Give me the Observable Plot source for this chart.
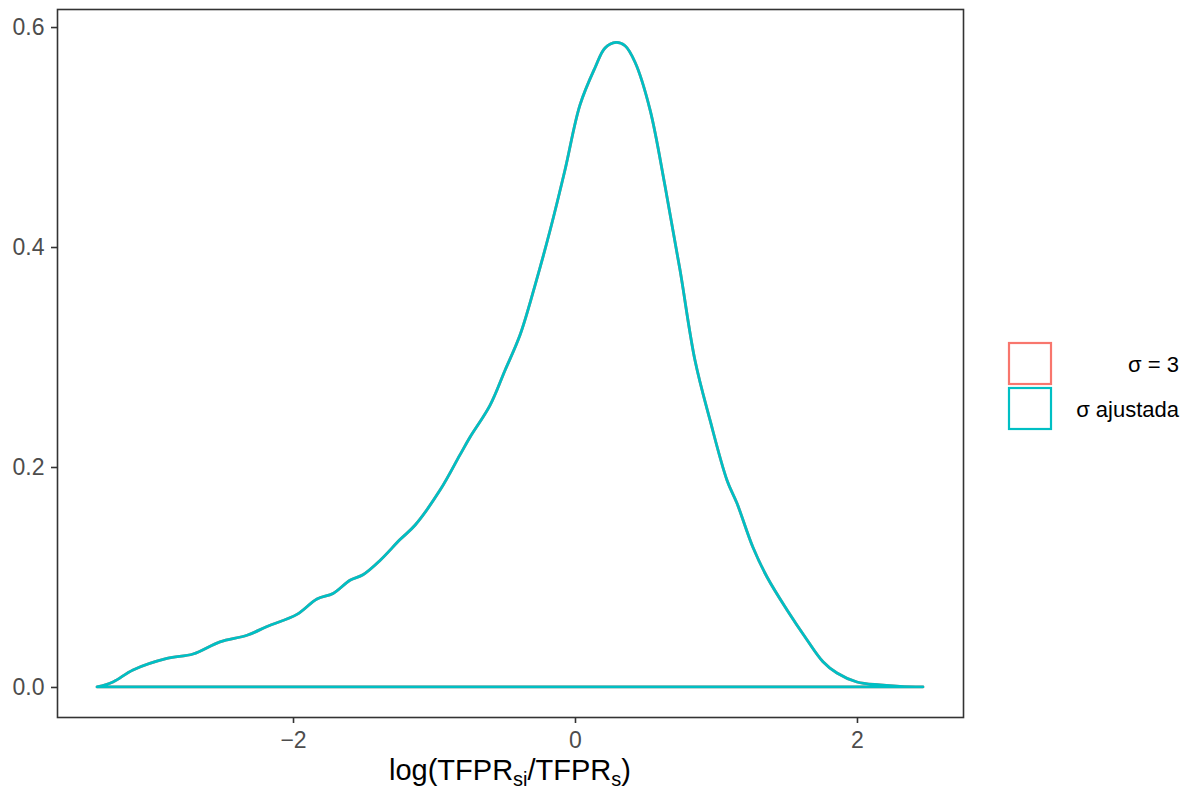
<!DOCTYPE html>
<html>
<head>
<meta charset="utf-8">
<script src="https://cdn.jsdelivr.net/npm/d3@7"></script>
<script src="https://cdn.jsdelivr.net/npm/@observablehq/plot@0.6"></script>
<style>
  html, body { margin: 0; padding: 0; background: #fff; }
  #chart { position: relative; width: 1187px; height: 791px; }
  svg { font-family: "Liberation Sans", Arial, Helvetica, sans-serif; }
</style>
</head>
<body>
<div id="chart"></div>
<script>
// ---- data ----
const seriesNames = ["σ = 3", "σ ajustada"];
const seriesColors = ["#F8766D", "#00BFC4"];
const xTicks = [-2, 0, 2];
const yTicks = [0, 0.2, 0.4, 0.6];
const densityX = [-3.390, -3.277, -3.135, -2.894, -2.709, -2.518, -2.326, -2.184, -1.972, -1.830,
  -1.716, -1.596, -1.504, -1.383, -1.241, -1.135, -0.957, -0.816, -0.745, -0.603,
  -0.496, -0.390, -0.284, -0.177, -0.071, 0.035, 0.142, 0.213, 0.291, 0.355,
  0.426, 0.532, 0.638, 0.745, 0.851, 0.957, 1.078, 1.149, 1.262, 1.362,
  1.504, 1.645, 1.759, 1.858, 2.000, 2.163, 2.305, 2.468];
const densityY = [0.000, 0.0045, 0.0155, 0.026, 0.030, 0.041, 0.047, 0.055, 0.066, 0.080,
  0.085, 0.097, 0.102, 0.115, 0.134, 0.147, 0.179, 0.211, 0.227, 0.256,
  0.288, 0.320, 0.365, 0.415, 0.470, 0.529, 0.563, 0.581, 0.586, 0.583,
  0.568, 0.525, 0.456, 0.379, 0.297, 0.243, 0.188, 0.167, 0.127, 0.100,
  0.070, 0.043, 0.023, 0.0127, 0.0045, 0.0018, 0.0005, 0.000];

// both series share the same estimated density (σ = 3 is hidden underneath)
const rows = [];
for (const s of seriesNames) {
  densityX.forEach((x, i) => rows.push({series: s, x, y: densityY[i]}));
}

const minus = d => (d < 0 ? "\u2212" + Math.abs(d) : String(d));

const plot = Plot.plot({
  width: 1187,
  height: 791,
  marginLeft: 57,
  marginRight: 224,
  marginTop: 9,
  marginBottom: 74,
  style: {fontFamily: "'Liberation Sans', Arial, Helvetica, sans-serif", background: "#fff"},
  x: {domain: [-3.674, 2.752]},
  y: {domain: [-0.0273, 0.6164]},
  color: {domain: seriesNames, range: seriesColors},
  marks: [
    Plot.area(rows, {x1: "x", y1: 0, y2: "y", z: "series", stroke: "series", fill: "none",
      strokeWidth: 2.8, curve: "catmull-rom"}),
    Plot.frame({stroke: "#333333", strokeWidth: 1.6}),
    Plot.axisX({ticks: xTicks, tickFormat: minus, tickSize: 6, tickPadding: 8,
      fontSize: 23, stroke: "#333333", strokeWidth: 1.6, fill: "#4D4D4D", label: null}),
    Plot.axisY({ticks: yTicks, tickFormat: d3.format(".1f"), tickSize: 6, tickPadding: 7,
      fontSize: 23, stroke: "#333333", strokeWidth: 1.6, fill: "#4D4D4D", label: null})
  ]
});

document.getElementById("chart").appendChild(plot);

const svg = d3.select(plot);

// axis title with subscripts
const title = svg.append("text")
  .attr("x", 510).attr("y", 780)
  .attr("text-anchor", "middle")
  .attr("font-size", 29)
  .attr("fill", "#000");
title.append("tspan").text("log(TFPR");
title.append("tspan").attr("font-size", 20).attr("dy", 6).text("si");
title.append("tspan").attr("font-size", 29).attr("dy", -6).text("/TFPR");
title.append("tspan").attr("font-size", 20).attr("dy", 6).text("s");
title.append("tspan").attr("font-size", 29).attr("dy", -6).text(")");

// legend
const lg = svg.append("g");
seriesNames.forEach((name, i) => {
  const y0 = 343 + i * 45;
  lg.append("rect")
    .attr("x", 1009).attr("y", y0).attr("width", 42).attr("height", 41)
    .attr("fill", "#fff").attr("stroke", seriesColors[i]).attr("stroke-width", 2.2);
  lg.append("text")
    .attr("x", 1179).attr("y", y0 + 21).attr("dy", "0.35em")
    .attr("text-anchor", "end").attr("font-size", 22).attr("fill", "#000")
    .text(name);
});
</script>
</body>
</html>
